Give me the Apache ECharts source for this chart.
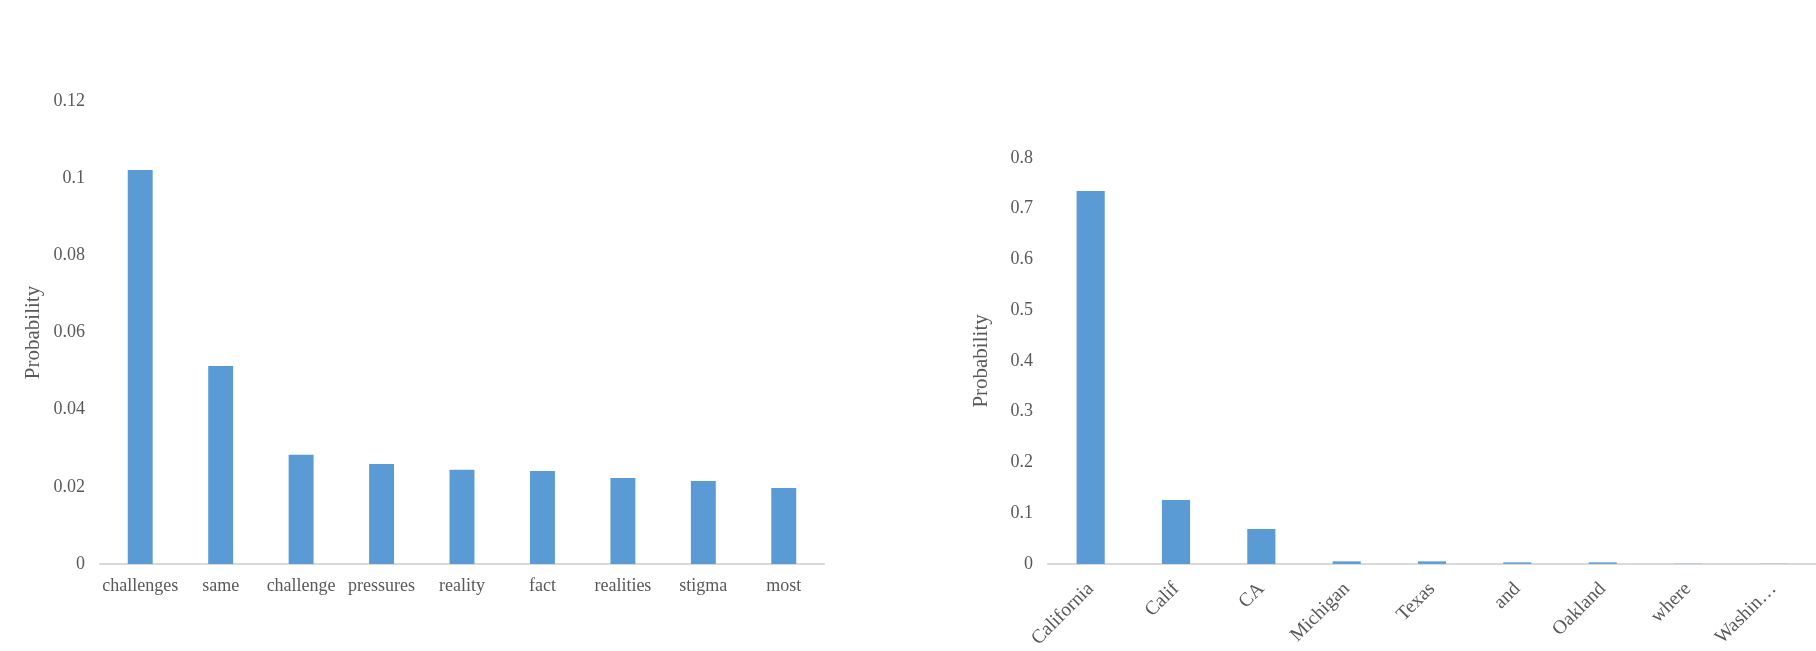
<!DOCTYPE html>
<html>
<head>
<meta charset="utf-8">
<script src="https://cdn.jsdelivr.net/npm/echarts@6/dist/echarts.min.js"></script>
<style>
  html, body { margin: 0; padding: 0; background: #fff; }
  #main { width: 1816px; height: 651px; }
</style>
</head>
<body>
<div id="main"></div>
<script>
// left panel: words
var wordCats = ['challenges', 'same', 'challenge', 'pressures', 'reality', 'fact', 'realities', 'stigma', 'most'];
var wordProb = [0.1021, 0.0513, 0.0283, 0.0259, 0.0244, 0.0241, 0.0223, 0.0215, 0.0197];

// right panel: places
var placeCats = ['California', 'Calif', 'CA', 'Michigan', 'Texas', 'and', 'Oakland', 'where', 'Washin…'];
var placeProb = [0.735, 0.126, 0.069, 0.005, 0.005, 0.003, 0.003, 0.0004, 0.0003];

var font = 'Liberation Serif';
var textColor = '#595959';
var barColor = '#5B9BD5';

var myChart = echarts.init(document.getElementById('main'));

function yAxisCfg(gridIndex, max, interval) {
    return {
        type: 'value',
        gridIndex: gridIndex,
        min: 0,
        max: max,
        interval: interval,
        name: 'Probability',
        nameLocation: 'middle',
        nameGap: 56,
        nameTextStyle: { fontFamily: font, fontSize: 21, color: textColor },
        axisLine: { show: false },
        axisTick: { show: false },
        splitLine: { show: false },
        axisLabel: { fontFamily: font, fontSize: 18, color: textColor, margin: 15 }
    };
}

var option = {
    animation: false,
    grid: [
        { left: 100, right: 992, top: 101, bottom: 87 },
        { left: 1048, right: 0, top: 158, bottom: 87 }
    ],
    xAxis: [
        {
            type: 'category',
            gridIndex: 0,
            data: wordCats,
            axisLine: { lineStyle: { color: '#D9D9D9', width: 2 } },
            axisTick: { show: false },
            axisLabel: { fontFamily: font, fontSize: 18, color: textColor, margin: 13, interval: 0 }
        },
        {
            type: 'category',
            gridIndex: 1,
            data: placeCats,
            axisLine: { lineStyle: { color: '#D9D9D9', width: 2 } },
            axisTick: { show: false },
            axisLabel: { fontFamily: font, fontSize: 19.5, color: textColor, margin: 22, interval: 0, rotate: 45 }
        }
    ],
    yAxis: [
        yAxisCfg(0, 0.12, 0.02),
        yAxisCfg(1, 0.8, 0.1)
    ],
    series: [
        {
            type: 'bar',
            xAxisIndex: 0,
            yAxisIndex: 0,
            data: wordProb,
            barWidth: '31%',
            itemStyle: { color: barColor }
        },
        {
            type: 'bar',
            xAxisIndex: 1,
            yAxisIndex: 1,
            data: placeProb,
            barWidth: '33%',
            itemStyle: { color: barColor }
        }
    ]
};

myChart.setOption(option);
</script>
</body>
</html>
